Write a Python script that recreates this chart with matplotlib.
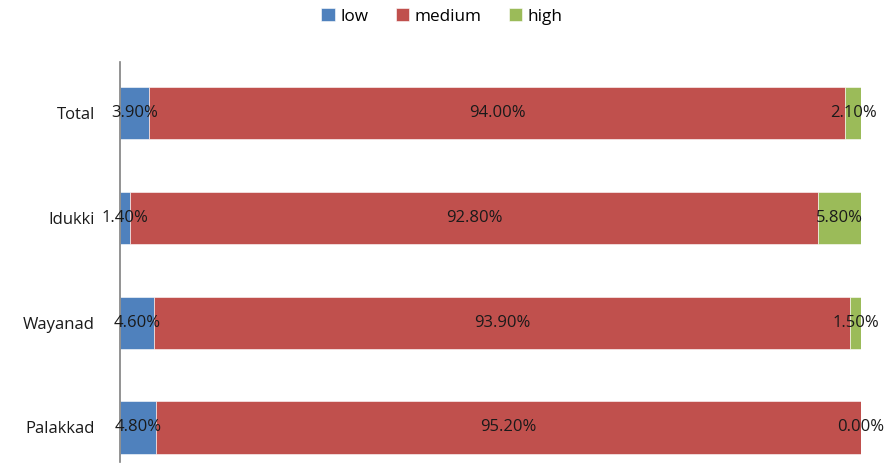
import matplotlib
matplotlib.use('Agg')
import matplotlib.pyplot as plt

# data, bottom to top
regions = ['Palakkad', 'Wayanad', 'Idukki', 'Total']
low = [4.80, 4.60, 1.40, 3.90]
medium = [95.20, 93.90, 92.80, 94.00]
high = [0.00, 1.50, 5.80, 2.10]

series = [('low', low, '#4F81BD'),
          ('medium', medium, '#C0504D'),
          ('high', high, '#9BBB59')]

plt.rcParams['font.family'] = ['Open Sans', 'DejaVu Sans']

fig = plt.figure(figsize=(8.84, 4.63), dpi=100)
ax = fig.add_axes([120 / 884, 1 - 462 / 463, 741 / 884, 400 / 463])

ypos = list(range(len(regions)))
left = [0.0] * len(regions)
for name, vals, color in series:
    ax.barh(ypos, vals, left=left, height=0.5, color=color,
            label=name, edgecolor='white', linewidth=0.4)
    for y, l, v in zip(ypos, left, vals):
        ax.text(l + v / 2, y, f'{v:.2f}%', ha='center', va='center',
                fontsize=12, color='#1a1a1a')
    left = [l + v for l, v in zip(left, vals)]

ax.set_xlim(0, 100)
ax.set_ylim(-0.33, 3.49)
ax.set_yticks(ypos)
ax.set_yticklabels(regions, fontsize=12, color='#1a1a1a')
ax.tick_params(axis='y', length=0, pad=18)
ax.set_xticks([])
for s in ['top', 'right', 'bottom']:
    ax.spines[s].set_visible(False)
ax.spines['left'].set_color('#808080')
ax.spines['left'].set_linewidth(1.2)

fig.legend(loc='upper center', bbox_to_anchor=(0.5, 1.015), ncol=3,
           frameon=False, fontsize=12.3, handlelength=0.8, handleheight=0.8,
           handletextpad=0.3, columnspacing=1.6)

fig.savefig('out.png', dpi=100)
